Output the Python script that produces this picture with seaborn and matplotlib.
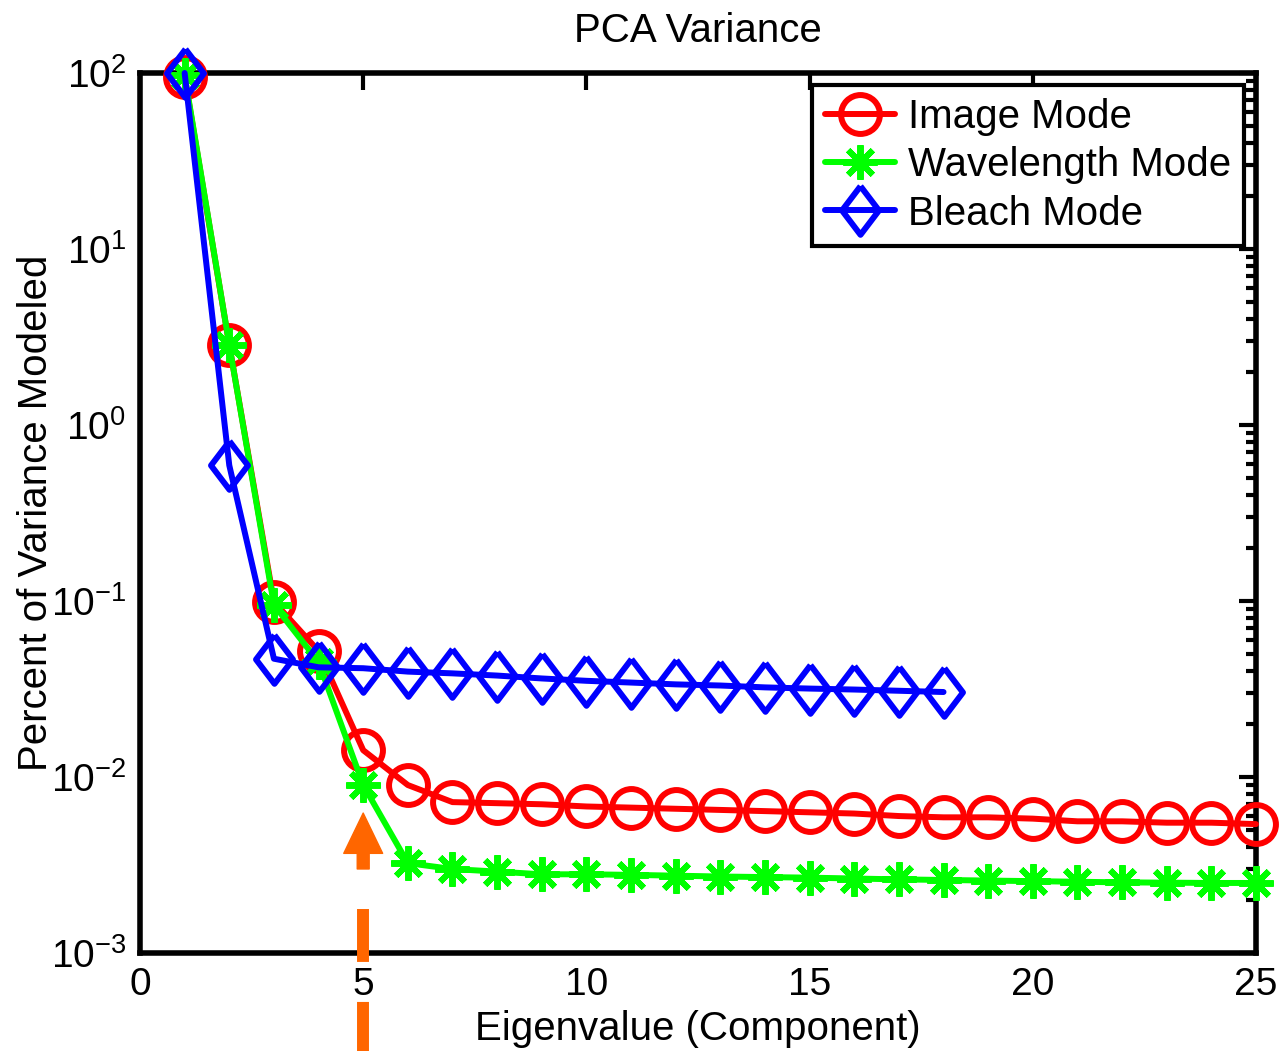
import numpy as np
import pandas as pd
import seaborn as sns
import matplotlib
matplotlib.use('Agg')
import matplotlib.pyplot as plt
from matplotlib.ticker import LogLocator, FixedLocator

# Data (percent of variance per component)
image_mode = [95, 2.85, 0.099, 0.052, 0.0142, 0.0090, 0.0072, 0.0071, 0.0070, 0.0068,
              0.0067, 0.0066, 0.0065, 0.0064, 0.0063, 0.0062, 0.0060, 0.0059, 0.0059,
              0.0058, 0.0056, 0.0056, 0.0055, 0.0055, 0.0054]
wavelength_mode = [97, 2.85, 0.095, 0.045, 0.0090, 0.00324, 0.0030, 0.0029, 0.0028, 0.0028,
                   0.00278, 0.00275, 0.00272, 0.0027, 0.00268, 0.00265, 0.00262, 0.0026,
                   0.00258, 0.00256, 0.00254, 0.00252, 0.00251, 0.0025, 0.0025]
bleach_mode = [100, 0.59, 0.047, 0.042, 0.0415, 0.0397, 0.0388, 0.0377, 0.0363, 0.0352,
               0.0344, 0.0336, 0.0331, 0.0323, 0.0318, 0.0314, 0.0309, 0.0304]
series_names = ['Image Mode', 'Wavelength Mode', 'Bleach Mode']
x_ticks = [0, 5, 10, 15, 20, 25]
arrow_component = 5

# Build a long-form table for seaborn
frames = []
for name, vals in zip(series_names, [image_mode, wavelength_mode, bleach_mode]):
    frames.append(pd.DataFrame({'component': np.arange(1, len(vals) + 1),
                                'variance': vals, 'mode': name}))
df = pd.concat(frames, ignore_index=True)

sns.set_style('white')
plt.rcParams['font.family'] = ['Liberation Sans', 'DejaVu Sans']
plt.rcParams['mathtext.fontset'] = 'custom'
plt.rcParams['mathtext.rm'] = 'Liberation Sans'
plt.rcParams['mathtext.it'] = 'Liberation Sans'
for key in ['text.color', 'axes.labelcolor', 'xtick.color', 'ytick.color']:
    plt.rcParams[key] = 'black'

fig = plt.figure(figsize=(12.81, 10.51), dpi=100)
ax = fig.add_axes([140 / 1281, 1 - 953 / 1051, (1256 - 140) / 1281, (953 - 73) / 1051])

# matlab style diamond is a bit taller than wide
tall_diamond = [(0, 1), (0.76, 0), (0, -1), (-0.76, 0), (0, 1)]
styles = {
    'Image Mode': dict(color=(1, 0, 0), marker='o', markersize=28),
    'Wavelength Mode': dict(color=(0, 1, 0), marker=(8, 2, 0), markersize=25),
    'Bleach Mode': dict(color=(0, 0, 1), marker=tall_diamond, markersize=35),
}
for name in series_names:
    st = styles[name]
    sns.lineplot(data=df[df['mode'] == name], x='component', y='variance', ax=ax,
                 color=st['color'], marker=st['marker'], markersize=st['markersize'],
                 markerfacecolor='none', markeredgecolor=st['color'], markeredgewidth=4.3,
                 linewidth=4.3, label=name, clip_on=False, zorder=3)

ax.set_yscale('log')
ax.set_xlim(0, 25)
ax.set_ylim(1e-3, 1e2)
ax.xaxis.set_major_locator(FixedLocator(x_ticks))
ax.yaxis.set_major_locator(LogLocator(base=10, numticks=10))
ax.yaxis.set_minor_locator(LogLocator(base=10, subs=np.arange(2, 10), numticks=10))
ax.tick_params(which='both', direction='in', top=True, right=True, width=3, labelsize=28, pad=10)
ax.tick_params(which='major', length=12)
ax.tick_params(which='minor', length=7)
ax.tick_params(axis='x', which='minor', bottom=False, top=False)
for sp in ax.spines.values():
    sp.set_linewidth(4)
    sp.set_color('black')

ax.set_title('PCA Variance', fontsize=29, pad=22)
ax.set_xlabel('Eigenvalue (Component)', fontsize=29, labelpad=5)
ax.set_ylabel('Percent of Variance Modeled', fontsize=29, labelpad=-3)

leg = ax.legend(loc='upper right', fontsize=29, frameon=True, fancybox=False,
                handlelength=1.75, handletextpad=0.3, borderpad=0.33, labelspacing=0.25,
                borderaxespad=0.3)
leg.get_frame().set_edgecolor('black')
leg.get_frame().set_linewidth(3)
leg.get_frame().set_alpha(1)

# Orange dashed arrow pointing at component 5
trans = matplotlib.transforms.blended_transform_factory(ax.transData, ax.transAxes)
ax.plot([arrow_component, arrow_component], [0.0955, -0.115], transform=trans,
        color='#FF6600', linewidth=8.6, linestyle=(4.43, (4.43, 3.35)), clip_on=False,
        solid_capstyle='butt', dash_capstyle='butt', zorder=4)
ax.annotate('', xy=(arrow_component, 0.159), xycoords=trans,
            xytext=(arrow_component, 0.0955), textcoords=trans,
            arrowprops=dict(arrowstyle='simple,head_length=2.9,head_width=2.8,tail_width=0.86',
                            color='#FF6600', mutation_scale=10, shrinkA=0, shrinkB=0),
            zorder=4, annotation_clip=False)

fig.savefig('out.png', dpi=100)
